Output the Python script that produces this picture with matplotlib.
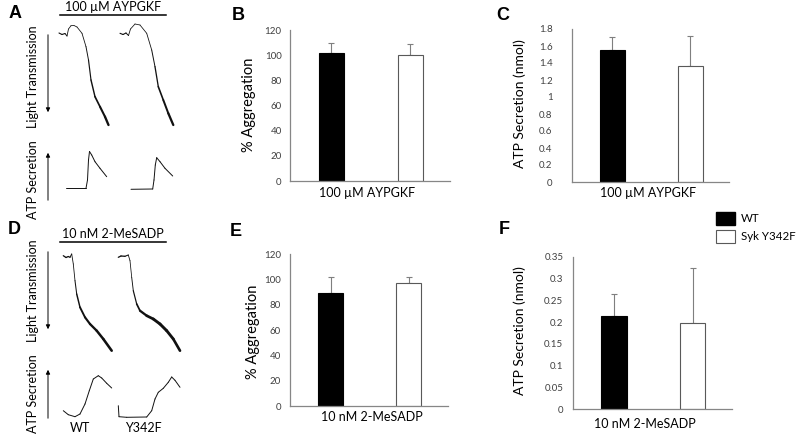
import numpy as np
import matplotlib.pyplot as plt
from matplotlib.collections import LineCollection
from matplotlib.patches import Patch

plt.rcParams['font.family'] = ['Lato', 'DejaVu Sans']

W, H = 796, 448

# bar data (WT, Syk Y342F)
groups = ['WT', 'Syk Y342F']
agg_aypgkf = [101.5, 100.5]
agg_aypgkf_err = [8, 8]
atp_aypgkf = [1.55, 1.36]
atp_aypgkf_err = [0.15, 0.36]
agg_mesadp = [89.5, 97]
agg_mesadp_err = [12, 5]
atp_mesadp = [0.215, 0.197]
atp_mesadp_err = [0.05, 0.127]

# raw traces (x, y, trace width)
a_lt_wt_x = [59, 62, 65, 67, 68.5, 71, 74, 77, 82, 86, 88.5, 91, 95, 100, 105, 108.5]
a_lt_wt_y = [33, 34.5, 33.5, 36, 29, 25.7, 25.5, 27, 33.3, 46.7, 60, 80, 96.7, 106.7, 116.7, 125]
a_lt_wt_w = [1.3, 1.3, 1.3, 1.0, 0.9, 0.9, 0.9, 0.9, 0.9, 1.0, 1.2, 1.5, 1.8, 2.2, 2.6, 2.8]
a_lt_mut_x = [120, 123, 126, 128.5, 130.5, 135, 140, 146.7, 151.7, 155, 158.3, 163.3, 168.3, 173.3]
a_lt_mut_y = [33.3, 34.5, 33, 35.5, 29, 24, 25, 33.3, 50, 66.7, 86.7, 100, 113.3, 125]
a_lt_mut_w = [1.3, 1.3, 1.3, 1.0, 0.9, 0.9, 0.9, 0.9, 1.0, 1.3, 1.7, 2.1, 2.5, 2.8]
a_atp_wt_x = [66, 86, 87.5, 88.5, 89.5, 91.7, 95, 100, 106.7]
a_atp_wt_y = [188.3, 188.3, 180, 160, 151.5, 155, 161.7, 168.3, 176.7]
a_atp_mut_x = [131, 152.7, 154, 155.3, 156.7, 160, 165, 172.7]
a_atp_mut_y = [189.3, 189, 180, 165, 157.7, 161.7, 168.3, 176]

d_lt_wt_x = [63.3, 66, 68.3, 70, 71.7, 73.3, 75, 76.7, 80, 85, 90, 96.7, 103.3, 111.7]
d_lt_wt_y = [255.7, 257.5, 256.5, 257.3, 254, 264, 280.7, 294, 307.3, 317.3, 324, 330.7, 339, 350.7]
d_lt_wt_w = [1.5, 1.5, 1.5, 1.3, 1.0, 0.9, 1.0, 1.4, 2.0, 2.4, 2.6, 2.8, 3.0, 3.0]
d_lt_mut_x = [118.3, 121, 125, 128.3, 130, 131.7, 133.3, 136.7, 140, 146.7, 153.3, 160, 166.7, 173.3, 180]
d_lt_mut_y = [257.3, 256, 256.3, 255, 260.7, 277.3, 290.7, 304, 310.7, 315.7, 319, 324, 330.7, 339, 350.7]
d_lt_mut_w = [1.5, 1.5, 1.5, 1.0, 0.9, 0.9, 1.2, 1.6, 2.4, 3.0, 3.3, 3.4, 3.4, 3.2, 3.0]
d_atp_wt_x = [63.3, 68.3, 75, 80, 85, 89.3, 93.3, 98.3, 101.7, 106.7, 111.7]
d_atp_wt_y = [410.7, 414.7, 416.7, 414, 404, 390.7, 379, 375.7, 378, 383.3, 388]
d_atp_mut_x = [118.3, 119, 126.7, 146.7, 151.7, 155, 158.3, 163.3, 168.3, 171.7, 175, 180]
d_atp_mut_y = [405.7, 416.7, 417.3, 417, 410.7, 399, 392.3, 388.3, 382.3, 377, 380.3, 387.3]

fig = plt.figure(figsize=(W / 100, H / 100), dpi=100)


def px_axes(x0, y0, x1, y1):
    return fig.add_axes([x0 / W, 1 - y1 / H, (x1 - x0) / W, (y1 - y0) / H])


# ---- trace panels A and D ----
tr = px_axes(0, 0, 200, 448)
tr.set_xlim(0, 200)
tr.set_ylim(448, 0)
tr.axis('off')


def trace(x, y, w=None, lw=0.7):
    pts = np.column_stack([x, y])
    segs = np.stack([pts[:-1], pts[1:]], axis=1)
    if w is None:
        widths = lw
    else:
        w = np.asarray(w)
        widths = (w[:-1] + w[1:]) / 2 * 0.62
    tr.add_collection(LineCollection(segs, linewidths=widths, colors='#111111',
                                     capstyle='round', joinstyle='round'))


trace(a_lt_wt_x, a_lt_wt_y, a_lt_wt_w)
trace(a_lt_mut_x, a_lt_mut_y, a_lt_mut_w)
trace(a_atp_wt_x, a_atp_wt_y)
trace(a_atp_mut_x, a_atp_mut_y)
trace(d_lt_wt_x, d_lt_wt_y, d_lt_wt_w)
trace(d_lt_mut_x, d_lt_mut_y, d_lt_mut_w)
trace(d_atp_wt_x, d_atp_wt_y)
trace(d_atp_mut_x, d_atp_mut_y)

for top, title in [(0, '100 µM AYPGKF'), (227, '10 nM 2-MeSADP')]:
    tr.text(113, top + 7, title, ha='center', va='center', fontsize=9)
    tr.plot([60, 166], [top + 15.5, top + 15.5], color='black', lw=1.1)

arr = dict(arrowstyle='-|>', lw=0.7, color='black', mutation_scale=6)
tr.annotate('', xy=(48, 115), xytext=(48, 32), arrowprops=arr)
tr.annotate('', xy=(48, 150), xytext=(48, 203), arrowprops=arr)
tr.annotate('', xy=(48, 332), xytext=(48, 249), arrowprops=arr)
tr.annotate('', xy=(48, 367), xytext=(48, 421), arrowprops=arr)
tr.text(33, 77, 'Light Transmission', rotation=90, ha='center', va='center', fontsize=9)
tr.text(33, 180, 'ATP Secretion', rotation=90, ha='center', va='center', fontsize=9)
tr.text(33, 291, 'Light Transmission', rotation=90, ha='center', va='center', fontsize=9)
tr.text(33, 394, 'ATP Secretion', rotation=90, ha='center', va='center', fontsize=9)
tr.text(80, 428, 'WT', ha='center', va='center', fontsize=9)
tr.text(143, 428, 'Y342F', ha='center', va='center', fontsize=9)


# ---- bar panels ----
def bar_panel(box, vals, errs, ymax, step, pad):
    ax = px_axes(*box)
    pos = np.arange(len(vals))
    bars = ax.bar(pos, vals, width=0.32, color=['black', 'white'],
                  edgecolor=['black', '#595959'], linewidth=0.8, zorder=2)
    ax.errorbar(pos, vals, yerr=[np.zeros(len(errs)), errs], fmt='none',
                ecolor='#7f7f7f', elinewidth=0.8, capsize=2, capthick=0.8, zorder=1)
    ax.set_xlim(-0.52, 1.5)
    ax.set_ylim(0, ymax)
    ax.set_yticks(np.arange(0, ymax + step / 2, step))
    ax.yaxis.set_major_formatter('{x:g}')
    ax.set_xticks([])
    for s in ['top', 'right']:
        ax.spines[s].set_visible(False)
    for s in ['left', 'bottom']:
        ax.spines[s].set_color('#868686')
        ax.spines[s].set_linewidth(0.9)
    ax.tick_params(length=0, labelsize=7, pad=pad, labelcolor='#404040')
    return ax, bars


bar_panel((290, 30, 450, 181), agg_aypgkf, agg_aypgkf_err, 120, 20, 6)
bar_panel((572, 29, 729, 182), atp_aypgkf, atp_aypgkf_err, 1.8, 0.2, 14)
bar_panel((290, 254, 448, 406), agg_mesadp, agg_mesadp_err, 120, 20, 6.5)
ax_f, bars_f = bar_panel((573, 257, 732, 409), atp_mesadp, atp_mesadp_err, 0.35, 0.05, 7)

# axis labels
fig.text(249 / W, 1 - 105 / H, '% Aggregation', rotation=90, ha='center', va='center', fontsize=10.5)
fig.text(520 / W, 1 - 104 / H, 'ATP Secretion (nmol)', rotation=90, ha='center', va='center', fontsize=10)
fig.text(253 / W, 1 - 332 / H, '% Aggregation', rotation=90, ha='center', va='center', fontsize=10.5)
fig.text(520 / W, 1 - 331 / H, 'ATP Secretion (nmol)', rotation=90, ha='center', va='center', fontsize=10)
fig.text(367 / W, 1 - 193 / H, '100 µM AYPGKF', ha='center', va='center', fontsize=9)
fig.text(648 / W, 1 - 193 / H, '100 µM AYPGKF', ha='center', va='center', fontsize=9)
fig.text(372 / W, 1 - 417 / H, '10 nM 2-MeSADP', ha='center', va='center', fontsize=9)
fig.text(645 / W, 1 - 424 / H, '10 nM 2-MeSADP', ha='center', va='center', fontsize=9)

# panel letters
for letter, x, y in [('A', 15, 14), ('B', 238, 16), ('C', 503, 16),
                     ('D', 14, 229), ('E', 236, 231), ('F', 504, 230)]:
    fig.text(x / W, 1 - y / H, letter, ha='center', va='center', fontsize=13,
             fontweight='bold', family='Liberation Sans')

# legend
handles = [Patch(facecolor='black', edgecolor='black'),
           Patch(facecolor='white', edgecolor='#595959', linewidth=0.8)]
fig.legend(handles, groups, loc='upper left', bbox_to_anchor=(716 / W, 1 - 212 / H),
           frameon=False, fontsize=8.3, handlelength=1.65, handleheight=1.35,
           handletextpad=0.5, labelspacing=0.45, borderpad=0, borderaxespad=0)

fig.savefig('out.png', dpi=100)
